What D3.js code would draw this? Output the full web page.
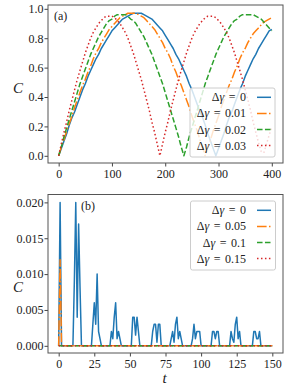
<!DOCTYPE html>
<html>
<head>
<meta charset="utf-8">
<script src="https://cdn.jsdelivr.net/npm/d3@7.9.0/dist/d3.min.js"></script>
<style>
  body { margin: 0; background: #fff; }
  svg { display: block; }
  svg text { font-family: "Liberation Serif", "DejaVu Serif", serif; }
  .tick text { font-size: 12px; fill: #222; }
  .tick line { stroke: #444; }
</style>
</head>
<body>
<svg width="286" height="387"></svg>
<script>
// ---- panel (a): C(t) for small detunings ----
const tA = d3.range(0, 401, 5);
const blueA = [
  0, .05, .10, .15, .21, .26, .30, .35, .40, .45,
  .49, .54, .58, .62, .66, .69, .73, .76, .79, .82,
  .85, .87, .89, .91, .93, .94, .95, .96, .97, .97,
  .97, .97, .96, .95, .94, .93, .91, .89, .87, .85,
  .82, .79, .76, .73, .69, .66, .62, .58, .54, .49,
  .45, .40, .35, .30, .26, .21, .15, .10, .05, 0,
  .05, .10, .15, .21, .26, .30, .35, .40, .45, .49,
  .54, .58, .62, .66, .69, .73, .76, .79, .82, .85,
  .86];
const orangeA = [
  0, .06, .11, .17, .22, .27, .33, .38, .43, .48,
  .52, .57, .61, .66, .70, .73, .77, .80, .83, .86,
  .88, .90, .92, .94, .95, .96, .97, .97, .97, .97,
  .96, .95, .94, .92, .90, .88, .86, .83, .80, .77,
  .73, .70, .66, .61, .57, .52, .48, .43, .38, .33,
  .27, .22, .17, .11, .06, 0, .06, .11, .17, .22,
  .27, .33, .38, .43, .48, .52, .57, .61, .66, .70,
  .73, .77, .80, .83, .85, .87, .89, .91, .92, .93,
  .94];
const greenA = [
  0, .06, .13, .19, .25, .31, .37, .43, .49, .54,
  .59, .64, .69, .73, .77, .81, .84, .87, .90, .92,
  .93, .95, .96, .96, .96, .96, .95, .93, .92, .90,
  .87, .84, .81, .77, .73, .69, .64, .59, .54, .49,
  .43, .37, .31, .25, .19, .13, .06, 0, .06, .13,
  .19, .25, .31, .37, .43, .49, .54, .59, .64, .69,
  .73, .77, .81, .84, .87, .90, .92, .93, .95, .96,
  .96, .96, .96, .96, .95, .94, .93, .91, .89, .87,
  .85];
const redA = [
  0, .08, .16, .23, .31, .38, .45, .52, .58, .64,
  .70, .75, .80, .84, .87, .90, .92, .94, .95, .95,
  .95, .94, .92, .90, .87, .84, .80, .75, .70, .64,
  .58, .52, .45, .38, .31, .23, .16, .08, 0, .08,
  .16, .23, .31, .38, .45, .52, .58, .64, .70, .75,
  .80, .84, .87, .90, .92, .94, .95, .95, .95, .94,
  .92, .90, .87, .84, .80, .75, .70, .64, .58, .52,
  .45, .38, .31, .23, .16, .09, .03, .02, .08, .14,
  .20];
const labelsA = ["0", "0.01", "0.02", "0.03"];
const xTicksA = [0, 100, 200, 300, 400];
const yTicksA = [0, 0.2, 0.4, 0.6, 0.8, 1.0];

// ---- panel (b): larger detunings ----
const tB = [0, 1, 2, 10, 11, 12, 13, 14, 15, 16, 23, 24, 25, 26, 27, 28, 29, 30,
  36, 37, 38, 39, 40, 41, 42, 43, 44, 51, 52, 53, 54, 55, 56, 57,
  65, 66, 67, 68, 69, 70, 71, 72, 78, 79, 80, 81, 82, 83, 84, 85, 86, 87,
  93, 94, 95, 96, 97, 98, 99, 100, 107, 108, 109, 110, 111, 112, 113,
  120, 121, 122, 123, 124, 125, 126, 127, 128, 136, 137, 138, 139, 140, 141, 142, 150];
const blueB = [0, .020, 0, 0, .009, .020, .004, .017, .008, 0, 0, .003, .006, .003, .010, .002, .001, 0,
  0, .002, .001, .004, .006, .001, .002, .001, 0, 0, .004, .004, .0015, .004, .002, 0,
  0, .002, .003, .003, .0005, .003, .003, 0, 0, .001, .002, .0005, .003, .004, .001, .002, .001, 0,
  0, .001, .003, .001, .002, .002, .002, 0, 0, .002, .002, .001, .002, .002, 0,
  0, .002, .001, .0005, .003, .004, .001, .002, 0, 0, .002, .002, .001, .001, .002, 0, 0];
const tB2 = [0, 1, 2, 150];
const orangeB = [0, .012, 0, 0];
const greenB = [0, 0, 0, 0];
const redB = [0, 0, 0, 0];
const labelsB = ["0", "0.05", "0.1", "0.15"];
const xTicksB = [0, 25, 50, 75, 100, 125, 150];
const yTicksB = [0, 0.005, 0.010, 0.015, 0.020];

const colors = ["#1f77b4", "#ff7f0e", "#2ca02c", "#d62728"];
const dashes = [null, "9.6,2.4,1.5,2.4", "5.55,2.4", "1.5,2.475"];
const FONT = '"Liberation Serif", "DejaVu Serif", serif';

const svg = d3.select("svg");

function drawPanel(p) {
  const x = d3.scaleLinear().domain(p.xDom).range([p.left, p.right]);
  const y = d3.scaleLinear().domain(p.yDom).range([p.bottom, p.top]);

  svg.append("clipPath").attr("id", "clip" + p.id)
    .append("rect")
    .attr("x", p.left).attr("y", p.top)
    .attr("width", p.right - p.left).attr("height", p.bottom - p.top);

  // x axis
  const gx = svg.append("g")
    .attr("transform", `translate(0,${p.bottom})`)
    .call(d3.axisBottom(x).tickValues(p.xTicks).tickSize(3.5).tickPadding(2.5).tickFormat(d3.format("d")));
  gx.attr("font-family", FONT);
  gx.select(".domain").remove();

  // y axis
  const gy = svg.append("g")
    .attr("transform", `translate(${p.left},0)`)
    .call(d3.axisLeft(y).tickValues(p.yTicks).tickSize(3.5).tickPadding(1).tickFormat(d3.format(p.yFmt)));
  gy.attr("font-family", FONT);
  gy.select(".domain").remove();

  // curves
  const plot = svg.append("g").attr("clip-path", `url(#clip${p.id})`);
  p.series.forEach((s, i) => {
    const line = d3.line().x((d, j) => x(s.t[j])).y(d => y(d));
    plot.append("path")
      .datum(s.v)
      .attr("d", line)
      .attr("fill", "none")
      .attr("stroke", colors[i])
      .attr("stroke-width", 1.5)
      .attr("stroke-linejoin", "round")
      .attr("stroke-dasharray", dashes[i]);
  });

  // frame
  svg.append("rect")
    .attr("x", p.left).attr("y", p.top)
    .attr("width", p.right - p.left).attr("height", p.bottom - p.top)
    .attr("fill", "none").attr("stroke", "#555").attr("stroke-width", 1);

  // panel tag
  svg.append("text").attr("x", p.tagX).attr("y", p.tagY)
    .attr("font-size", 12).attr("fill", "#222").text(p.tag);

  // y label
  svg.append("text").attr("x", 18).attr("y", p.labY)
    .attr("text-anchor", "middle").attr("font-size", 15)
    .attr("font-style", "italic").attr("fill", "#222").text("C");

  // legend
  const lg = svg.append("g");
  lg.append("rect")
    .attr("x", p.legX).attr("y", p.legY).attr("width", 85).attr("height", 69).attr("rx", 2)
    .attr("fill", "#fff").attr("fill-opacity", 0.8)
    .attr("stroke", "#ccc").attr("stroke-width", 1);
  p.labels.forEach((lab, i) => {
    const cy = p.legY + 9.3 + i * 16.1;
    const txt = lg.append("text")
      .attr("x", 246).attr("y", cy + 4)
      .attr("text-anchor", "end").attr("font-size", 12).attr("fill", "#222")
      .attr("word-spacing", 1.5);
    txt.append("tspan").text("Δ");
    txt.append("tspan").attr("font-style", "italic").text("γ");
    txt.append("tspan").text(" = " + lab);
    lg.append("line")
      .attr("x1", 257).attr("x2", 271).attr("y1", cy).attr("y2", cy)
      .attr("stroke", colors[i]).attr("stroke-width", 1.5)
      .attr("stroke-dasharray", dashes[i]);
  });
}

drawPanel({
  id: "a", left: 48, right: 283, top: 5, bottom: 163,
  xDom: [-20, 421], yDom: [-0.049, 1.026],
  xTicks: xTicksA, yTicks: yTicksA, yFmt: ".1f",
  series: [
    { t: tA, v: blueA }, { t: tA, v: orangeA }, { t: tA, v: greenA }, { t: tA, v: redA }
  ],
  labels: labelsA, legX: 190, legY: 88,
  tag: "(a)", tagX: 54, tagY: 20, labY: 93
});

drawPanel({
  id: "b", left: 48, right: 283, top: 194.5, bottom: 353,
  xDom: [-7.5, 157.5], yDom: [-0.001, 0.0211],
  xTicks: xTicksB, yTicks: yTicksB, yFmt: ".3f",
  series: [
    { t: tB, v: blueB }, { t: tB2, v: orangeB }, { t: tB2, v: greenB }, { t: tB2, v: redB }
  ],
  labels: labelsB, legX: 190.5, legY: 201,
  tag: "(b)", tagX: 81, tagY: 210, labY: 292
});

// x label of the bottom panel
svg.append("text").attr("x", 164.5).attr("y", 383)
  .attr("text-anchor", "middle").attr("font-size", 15)
  .attr("font-style", "italic").attr("fill", "#222").text("t");
</script>
</body>
</html>
